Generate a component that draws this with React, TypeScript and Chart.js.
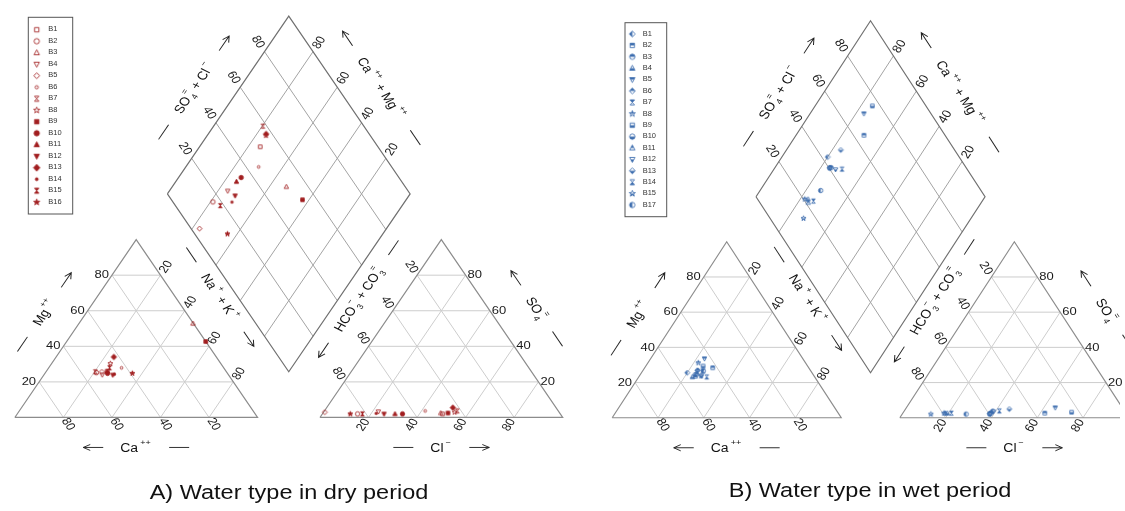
import React, { useEffect, useRef } from 'react';
import { Chart, registerables } from 'chart.js';

Chart.register(...registerables);

// ---------------- DATA ----------------
const TICK_VALUES = [20, 40, 60, 80];

// Dry period (A): cation % (Mg, Na+K; Ca = rest) and anion % (Cl, SO4; HCO3+CO3 = rest)
const drySamples = ['B1', 'B2', 'B3', 'B4', 'B5', 'B6', 'B7', 'B8', 'B9', 'B10', 'B11', 'B12', 'B13', 'B14', 'B15', 'B16'];
const dryMg = [26, 25.2, 52.8, 24, 25.7, 27.9, 25.7, 30.3, 42.7, 24.8, 26, 23.9, 34, 24.3, 27.9, 24.8];
const dryNaK = [25, 21, 47, 24, 23, 30, 20.3, 24.2, 57.3, 25.8, 25, 28.4, 23.8, 28.9, 25.1, 36];
const dryCl = [49.5, 14.5, 48.5, 22.4, 0.5, 41.5, 54.7, 54, 51.5, 33, 29.9, 25.4, 52, 22, 16.5, 11.5];
const drySO4 = [2, 2, 2.5, 3.3, 3, 3.7, 3.7, 3, 2.5, 2, 2, 2, 5.5, 2.3, 2, 2];

// Wet period (B)
const wetSamples = ['B1', 'B2', 'B3', 'B4', 'B5', 'B6', 'B7', 'B8', 'B9', 'B10', 'B11', 'B12', 'B13', 'B14', 'B15', 'B17'];
const wetMg = [25.6, 28.4, 24.7, 23.2, 33.6, 26.9, 26.6, 31.2, 29.4, 24.5, 23.5, 23.8, 27, 23.2, 23.8, 26.6];
const wetNaK = [20, 29.7, 24.5, 23.4, 23.5, 23.9, 26.3, 22, 25, 24, 24.5, 27, 23.7, 29.7, 26.9, 26.5];
const wetCl = [38.7, 62, 38.4, 19.4, 65, 38, 21.2, 18, 73.4, 38.2, 18.5, 39, 45.3, 41.5, 12.5, 27.9];
const wetSO4 = [3.9, 2.6, 2.6, 2.6, 5.7, 2.4, 2.6, 2.6, 3.2, 2.1, 2.6, 3.5, 5, 3.9, 2.1, 2.1];

// ---------------- STYLE / LAYOUT ----------------
const FONT = '"Liberation Sans", Arial, Helvetica, sans-serif';

const drySymbols: [string, string][] = [
  ['square', 'none'], ['circle', 'none'], ['triUp', 'none'], ['triDown', 'none'],
  ['diamond', 'none'], ['smallCircle', 'none'], ['hourglass', 'none'], ['star', 'none'],
  ['square', 'full'], ['circle', 'full'], ['triUp', 'full'], ['triDown', 'full'],
  ['bigDiamond', 'full'], ['dot', 'full'], ['hourglass', 'full'], ['star', 'full'],
];
const wetSymbols: [string, string][] = [
  ['diamond', 'left'], ['square', 'top'], ['circle', 'top'], ['triUp', 'bottom'],
  ['triDown', 'top'], ['diamond', 'top'], ['hourglass', 'top'], ['star', 'top'],
  ['square', 'bottom'], ['circle', 'bottom'], ['triUp', 'top'], ['triDown', 'bottom'],
  ['diamond', 'bottom'], ['hourglass', 'bottom'], ['star', 'bottom'], ['circle', 'left'],
];

type Pt = { x: number; y: number };

const cationXY = (mg: number, nak: number): Pt => ({ x: nak + mg / 2, y: mg });
const anionXY = (G: number, so4: number, cl: number): Pt => ({ x: 100 + G + cl + so4 / 2, y: so4 });
const diamondXY = (G: number, nak: number, hco3: number): Pt => ({
  x: (200 + G + nak - hco3) / 2,
  y: 200 + G - hco3 - nak,
});

function makeSymbol(shape: string, fill: string, color: string, sc: number): HTMLCanvasElement {
  const S = 9;
  const c = document.createElement('canvas');
  c.width = S;
  c.height = S;
  const g = c.getContext('2d')!;
  const cx = S / 2, cy = S / 2, r = 2.8 * sc;
  const path = () => {
    g.beginPath();
    switch (shape) {
      case 'square': g.rect(cx - 2.3 * sc, cy - 2.3 * sc, 4.6 * sc, 4.6 * sc); break;
      case 'circle': g.arc(cx, cy, r, 0, Math.PI * 2); break;
      case 'smallCircle': g.arc(cx, cy, 1.7 * sc, 0, Math.PI * 2); break;
      case 'dot': g.arc(cx, cy, 1.5 * sc, 0, Math.PI * 2); break;
      case 'triUp':
        g.moveTo(cx, cy - r - 0.3); g.lineTo(cx + r, cy + r * 0.75); g.lineTo(cx - r, cy + r * 0.75); g.closePath(); break;
      case 'triDown':
        g.moveTo(cx, cy + r + 0.3); g.lineTo(cx + r, cy - r * 0.75); g.lineTo(cx - r, cy - r * 0.75); g.closePath(); break;
      case 'diamond':
        g.moveTo(cx, cy - r - 0.3); g.lineTo(cx + r + 0.3, cy); g.lineTo(cx, cy + r + 0.3); g.lineTo(cx - r - 0.3, cy); g.closePath(); break;
      case 'bigDiamond':
        g.moveTo(cx, cy - 3.6 * sc); g.lineTo(cx + 3.4 * sc, cy); g.lineTo(cx, cy + 3.6 * sc); g.lineTo(cx - 3.4 * sc, cy); g.closePath(); break;
      case 'hourglass':
        g.moveTo(cx - 2.3 * sc, cy - 2.7 * sc); g.lineTo(cx + 2.3 * sc, cy - 2.7 * sc); g.lineTo(cx - 2.3 * sc, cy + 2.7 * sc); g.lineTo(cx + 2.3 * sc, cy + 2.7 * sc); g.closePath(); break;
      case 'star':
        for (let i = 0; i < 10; i++) {
          const a = -Math.PI / 2 + (i * Math.PI) / 5;
          const rr = (i % 2 ? 1.4 : 3.4) * sc;
          const x = cx + rr * Math.cos(a), y = cy + rr * Math.sin(a);
          if (i === 0) g.moveTo(x, y); else g.lineTo(x, y);
        }
        g.closePath();
        break;
    }
  };
  g.strokeStyle = color;
  g.fillStyle = color;
  g.lineWidth = 0.85;
  if (fill === 'full') {
    path();
    g.fill();
  } else if (fill !== 'none') {
    g.save();
    g.beginPath();
    if (fill === 'top') g.rect(0, 0, S, cy);
    else if (fill === 'bottom') g.rect(0, cy, S, S - cy);
    else g.rect(0, 0, cx, S);
    g.clip();
    path();
    g.fill();
    g.restore();
  }
  path();
  g.stroke();
  return c;
}

function drawLabel(ctx: CanvasRenderingContext2D, p: number[], d: number[], text: string, gap: number, k: number) {
  ctx.save();
  ctx.translate(p[0], p[1]);
  ctx.scale(1, k);
  let ux = d[0], uy = d[1] / k;
  const L = Math.hypot(ux, uy);
  ux /= L; uy /= L;
  const w = ctx.measureText(text).width;
  const dist = gap + w / 2;
  ctx.translate(ux * dist, uy * dist);
  let ang = Math.atan2(uy, ux);
  if (ux < -1e-6) ang += Math.PI;
  ctx.rotate(ang);
  ctx.textAlign = 'center';
  ctx.textBaseline = 'middle';
  ctx.fillText(text, 0, 0);
  ctx.restore();
}

type Part = { t?: string; sup?: string; sub?: string };

function drawDeco(ctx: CanvasRenderingContext2D, kind: string, x1: number, x2: number) {
  ctx.beginPath();
  ctx.moveTo(x1, 0);
  ctx.lineTo(x2, 0);
  if (kind === 'arrowF') {
    ctx.moveTo(x2 - 7, -3.5); ctx.lineTo(x2, 0); ctx.lineTo(x2 - 7, 3.5);
  } else if (kind === 'arrowB') {
    ctx.moveTo(x1 + 7, -3.5); ctx.lineTo(x1, 0); ctx.lineTo(x1 + 7, 3.5);
  }
  ctx.stroke();
}

function drawTitle(ctx: CanvasRenderingContext2D, cx: number, cy: number, rd: number[], parts: Part[], decoL: string, decoR: string, k: number) {
  ctx.save();
  ctx.translate(cx, cy);
  ctx.scale(1, k);
  ctx.rotate(Math.atan2(rd[1] / k, rd[0]));
  const big = `14px ${FONT}`, small = `9px ${FONT}`;
  const items: (Part & { x: number })[] = [];
  let w = 0;
  parts.forEach((p) => {
    if (p.t) {
      ctx.font = big;
      const pw = ctx.measureText(p.t).width;
      items.push({ ...p, x: w });
      w += pw;
    } else {
      ctx.font = small;
      const w1 = p.sup ? ctx.measureText(p.sup).width : 0;
      const w2 = p.sub ? ctx.measureText(p.sub).width : 0;
      items.push({ ...p, x: w + 2 });
      w += Math.max(w1, w2) + 3.5;
    }
  });
  const DL = 20, GAP = 17;
  const total = DL + GAP + w + GAP + DL;
  const x0 = -total / 2;
  ctx.strokeStyle = '#222';
  ctx.lineWidth = 1;
  ctx.fillStyle = '#111';
  ctx.textAlign = 'left';
  ctx.textBaseline = 'alphabetic';
  drawDeco(ctx, decoL, x0, x0 + DL);
  const tx = x0 + DL + GAP;
  items.forEach((it) => {
    if (it.t) {
      ctx.font = big;
      ctx.fillText(it.t, tx + it.x, 5);
    } else {
      ctx.font = small;
      if (it.sup) ctx.fillText(it.sup, tx + it.x, -3);
      if (it.sub) ctx.fillText(it.sub, tx + it.x, 9);
    }
  });
  drawDeco(ctx, decoR, tx + w + GAP, tx + w + GAP + DL);
  ctx.restore();
}

type PanelCfg = {
  width: number; height: number; originX: number; originY: number; sx: number; sy: number; G: number;
  color: string; samples: string[]; mg: number[]; nak: number[]; cl: number[]; so4: number[];
  symbols: [string, string][]; caption: string; captionX: number; captionY: number;
  legend: { x: number; y: number; w: number; h: number; first: number; step: number; symX: number; textX: number };
};

const PANEL_A: PanelCfg = {
  width: 580, height: 511, originX: 10, originY: 420.7, sx: 2.47, sy: 1.814, G: 25.7,
  color: '#a11d1f', samples: drySamples, mg: dryMg, nak: dryNaK, cl: dryCl, so4: drySO4,
  symbols: drySymbols, caption: 'A) Water type in dry period', captionX: 289, captionY: 499,
  legend: { x: 28.3, y: 17.3, w: 44.4, h: 196.7, first: 12.4, step: 11.5, symX: 8.4, textX: 20 },
};
const PANEL_B: PanelCfg = {
  width: 545, height: 511, originX: 27.7, originY: 421, sx: 2.333, sy: 1.795, G: 25.6,
  color: '#3b6cae', samples: wetSamples, mg: wetMg, nak: wetNaK, cl: wetCl, so4: wetSO4,
  symbols: wetSymbols, caption: 'B) Water type in wet period', captionX: 290, captionY: 497,
  legend: { x: 45, y: 22.7, w: 41.7, h: 194, first: 11.3, step: 11.4, symX: 7.3, textX: 17.7 },
};

function segData(segs: Pt[][]): Pt[] {
  const out: Pt[] = [];
  segs.forEach((s) => {
    s.forEach((p) => out.push(p));
    out.push({ x: NaN, y: NaN });
  });
  return out;
}

function buildPanel(canvas: HTMLCanvasElement, cfg: PanelCfg): Chart {
  const { G } = cfg;
  const k = cfg.sy / (cfg.sx * Math.sqrt(3) / 2);
  const xmin = -cfg.originX / cfg.sx;
  const xmax = xmin + cfg.width / cfg.sx;
  const ymax = cfg.originY / cfg.sy;
  const ymin = ymax - cfg.height / cfg.sy;

  const triGrid: Pt[][] = [];
  const diaGrid: Pt[][] = [];
  TICK_VALUES.forEach((v) => {
    triGrid.push([cationXY(v, 0), cationXY(v, 100 - v)]);
    triGrid.push([cationXY(0, v), cationXY(100 - v, v)]);
    triGrid.push([cationXY(0, 100 - v), cationXY(100 - v, 0)]);
    triGrid.push([anionXY(G, v, 0), anionXY(G, v, 100 - v)]);
    triGrid.push([anionXY(G, 0, v), anionXY(G, 100 - v, v)]);
    triGrid.push([anionXY(G, 0, 100 - v), anionXY(G, 100 - v, 0)]);
    diaGrid.push([diamondXY(G, v, 100), diamondXY(G, v, 0)]);
    diaGrid.push([diamondXY(G, 0, v), diamondXY(G, 100, v)]);
  });
  const triOutline: Pt[][] = [
    [cationXY(0, 0), cationXY(0, 100), cationXY(100, 0), cationXY(0, 0)],
    [anionXY(G, 0, 0), anionXY(G, 0, 100), anionXY(G, 100, 0), anionXY(G, 0, 0)],
  ];
  const diaOutline: Pt[][] = [
    [diamondXY(G, 0, 100), diamondXY(G, 0, 0), diamondXY(G, 100, 0), diamondXY(G, 100, 100), diamondXY(G, 0, 100)],
  ];

  const plotSymbols = cfg.symbols.map(([s, f]) => makeSymbol(s, f, cfg.color, 0.78));
  const legendSymbols = cfg.symbols.map(([s, f]) => makeSymbol(s, f, cfg.color, 0.95));

  const lineDs = (segs: Pt[][], color: string, width: number, order: number) => ({
    data: segData(segs), showLine: true, borderColor: color, borderWidth: width, pointRadius: 0,
    backgroundColor: 'transparent', fill: false, spanGaps: false, order,
  });

  const pointDs = cfg.samples.map((name, i) => {
    const hco3 = 100 - cfg.cl[i] - cfg.so4[i];
    return {
      label: name,
      data: [cationXY(cfg.mg[i], cfg.nak[i]), anionXY(G, cfg.so4[i], cfg.cl[i]), diamondXY(G, cfg.nak[i], hco3)],
      pointStyle: plotSymbols[i], pointRadius: 3, showLine: false, order: 0,
    };
  });

  const decor = {
    id: 'piperDecor',
    afterDraw(chart: any) {
      const ctx: CanvasRenderingContext2D = chart.ctx;
      const xs = chart.scales.x, ys = chart.scales.y;
      const P = (p: Pt) => [xs.getPixelForValue(p.x), ys.getPixelForValue(p.y)];
      const D = (dx: number, dy: number) => {
        const a = P({ x: 0, y: 0 }), b = P({ x: dx, y: dy });
        return [b[0] - a[0], b[1] - a[1]];
      };
      ctx.save();
      // tick labels
      ctx.fillStyle = '#1a1a1a';
      ctx.font = `13px ${FONT}`;
      TICK_VALUES.forEach((v) => {
        const s = String(v);
        drawLabel(ctx, P(cationXY(0, 100 - v)), D(50, -100), s, 2, k);
        drawLabel(ctx, P(cationXY(v, 0)), D(-1, 0), s, 3, k);
        drawLabel(ctx, P(cationXY(100 - v, v)), D(50, 100), s, 4, k);
        drawLabel(ctx, P(anionXY(G, 0, v)), D(-50, -100), s, 3, k);
        drawLabel(ctx, P(anionXY(G, v, 100 - v)), D(1, 0), s, 2, k);
        drawLabel(ctx, P(anionXY(G, 100 - v, 0)), D(-50, 100), s, 4, k);
        drawLabel(ctx, P(diamondXY(G, 0, 100 - v)), D(-50, 100), s, 6, k);
        drawLabel(ctx, P(diamondXY(G, 100 - v, 0)), D(50, 100), s, 5, k);
      });

      // axis titles
      const title = (a: Pt, b: Pt, inside: Pt, dist: number, shift: number, parts: Part[], dl: string, dr: string) => {
        const A = P(a), B = P(b), I = P(inside);
        let ex = B[0] - A[0], ey = B[1] - A[1];
        const L = Math.hypot(ex, ey);
        ex /= L; ey /= L;
        if (ex < 0 || (Math.abs(ex) < 1e-6 && ey < 0)) { ex = -ex; ey = -ey; }
        let nx = -ey, ny = ex;
        const mx = (A[0] + B[0]) / 2, my = (A[1] + B[1]) / 2;
        if ((I[0] - mx) * nx + (I[1] - my) * ny > 0) { nx = -nx; ny = -ny; }
        drawTitle(ctx, mx + nx * dist + ex * shift, my + ny * dist + ey * shift, [ex, ey], parts, dl, dr, k);
      };
      const cIn = cationXY(33, 33), aIn = anionXY(G, 33, 33), dIn = diamondXY(G, 50, 50);
      title(cationXY(0, 0), cationXY(0, 100), cIn, 30, 0, [{ t: 'Ca' }, { sup: '++' }], 'arrowB', 'line');
      title(cationXY(0, 0), cationXY(100, 0), cIn, 35, -4, [{ t: 'Mg' }, { sup: '++' }], 'line', 'arrowF');
      title(cationXY(100, 0), cationXY(0, 100), cIn, 37, -13, [{ t: 'Na' }, { sup: '+' }, { t: ' + K' }, { sup: '+' }], 'line', 'arrowF');
      title(anionXY(G, 0, 0), anionXY(G, 0, 100), aIn, 30, 0, [{ t: 'Cl' }, { sup: '−' }], 'line', 'arrowF');
      title(anionXY(G, 100, 0), anionXY(G, 0, 100), aIn, 40, 3, [{ t: 'SO' }, { sub: '4', sup: '=' }], 'arrowB', 'line');
      title(anionXY(G, 0, 0), anionXY(G, 100, 0), aIn, 35, 12, [{ t: 'HCO' }, { sub: '3', sup: '−' }, { t: ' + CO' }, { sub: '3', sup: '=' }], 'arrowB', 'line');
      title(diamondXY(G, 0, 100), diamondXY(G, 0, 0), dIn, 38, -5, [{ t: 'SO' }, { sub: '4', sup: '=' }, { t: ' + Cl' }, { sup: '−' }], 'line', 'arrowF');
      title(diamondXY(G, 0, 0), diamondXY(G, 100, 0), dIn, 36, 4, [{ t: 'Ca' }, { sup: '++' }, { t: ' + Mg' }, { sup: '++' }], 'arrowB', 'line');

      // legend
      const lg = cfg.legend;
      ctx.fillStyle = '#fff';
      ctx.fillRect(lg.x, lg.y, lg.w, lg.h);
      ctx.strokeStyle = '#555';
      ctx.lineWidth = 1;
      ctx.strokeRect(lg.x, lg.y, lg.w, lg.h);
      cfg.samples.forEach((name, i) => {
        const y = lg.y + lg.first + i * lg.step;
        const sym = legendSymbols[i];
        ctx.drawImage(sym, lg.x + lg.symX - sym.width / 2, y - sym.height / 2);
        ctx.save();
        ctx.translate(lg.x + lg.textX, y);
        ctx.scale(1, k);
        ctx.font = `7.5px ${FONT}`;
        ctx.fillStyle = '#333';
        ctx.textAlign = 'left';
        ctx.textBaseline = 'middle';
        ctx.fillText(name, 0, 0);
        ctx.restore();
      });

      // caption
      ctx.save();
      ctx.translate(cfg.captionX, cfg.captionY);
      ctx.scale(1, k);
      ctx.font = `23.5px ${FONT}`;
      ctx.fillStyle = '#111';
      ctx.textAlign = 'center';
      ctx.textBaseline = 'alphabetic';
      ctx.fillText(cfg.caption, 0, 0);
      ctx.restore();
      ctx.restore();
    },
  };

  return new Chart(canvas, {
    type: 'scatter',
    data: {
      datasets: [
        lineDs(triGrid, '#cdcdcd', 1, 4),
        lineDs(diaGrid, '#a3a3a3', 1, 3),
        lineDs(triOutline, '#8c8c8c', 1.2, 2),
        lineDs(diaOutline, '#707070', 1.2, 2),
        ...pointDs,
      ] as any,
    },
    options: {
      animation: false,
      responsive: false,
      devicePixelRatio: 1,
      events: [],
      layout: { padding: 0 },
      scales: {
        x: { type: 'linear', min: xmin, max: xmax, display: false },
        y: { type: 'linear', min: ymin, max: ymax, display: false },
      },
      plugins: { legend: { display: false }, tooltip: { enabled: false }, title: { display: false } },
    },
    plugins: [decor],
  });
}

export default function App() {
  const refA = useRef<HTMLCanvasElement>(null);
  const refB = useRef<HTMLCanvasElement>(null);
  useEffect(() => {
    const a = buildPanel(refA.current!, PANEL_A);
    const b = buildPanel(refB.current!, PANEL_B);
    return () => {
      a.destroy();
      b.destroy();
    };
  }, []);
  return (
    <div style={{ position: 'fixed', left: 0, top: 0, width: 1125, height: 511, background: '#fff', overflow: 'hidden' }}>
      <canvas ref={refA} width={580} height={511} style={{ position: 'absolute', left: 0, top: 0, width: 580, height: 511 }} />
      <canvas ref={refB} width={545} height={511} style={{ position: 'absolute', left: 580, top: 0, width: 545, height: 511 }} />
    </div>
  );
}
